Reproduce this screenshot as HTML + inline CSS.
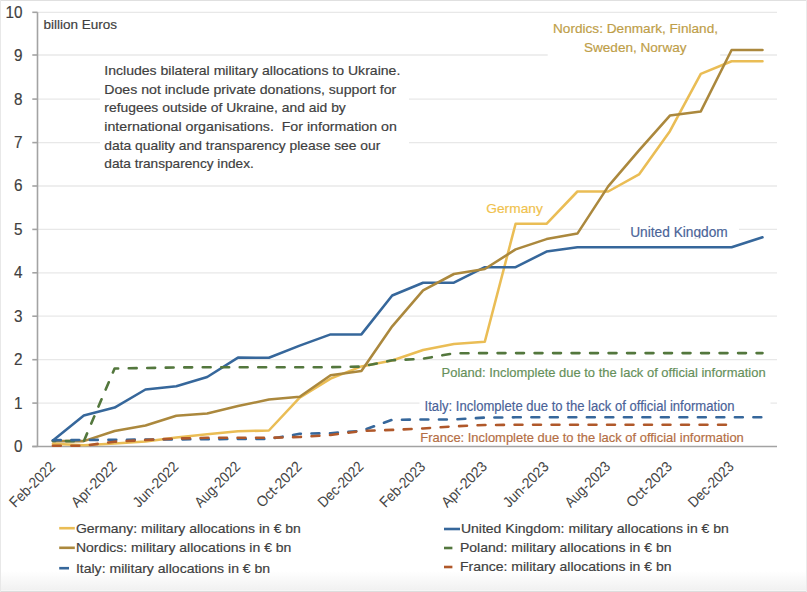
<!DOCTYPE html>
<html><head><meta charset="utf-8"><title>Military allocations to Ukraine</title>
<style>
html,body{margin:0;padding:0;background:#fff;}
body{width:807px;height:592px;overflow:hidden;}
svg{display:block;}
text{font-family:"Liberation Sans",sans-serif;stroke-width:0.18px;}
.xl text{stroke-width:0.04px;}
</style></head><body>
<svg width="807" height="592" viewBox="0 0 807 592">
<defs>
<linearGradient id="bg" x1="0" y1="0" x2="0" y2="1">
<stop offset="0" stop-color="#ffffff"/><stop offset="1" stop-color="#f1f1f1"/>
</linearGradient>
<clipPath id="ukclip"><rect x="600" y="210" width="150" height="28.3"/></clipPath>
</defs>
<rect x="0" y="0" width="807" height="592" fill="#fff"/>
<rect x="0" y="571" width="807" height="19" fill="url(#bg)"/>
<rect x="0" y="590" width="807" height="1" fill="#f6f6f6"/>
<rect x="0" y="591" width="807" height="1" fill="#dddddd"/>
<rect x="0" y="0" width="807" height="1" fill="#e0e0e0"/>
<rect x="0" y="0" width="1" height="592" fill="#e8e8e8"/>
<rect x="806" y="0" width="1" height="592" fill="#ebebeb"/>

<g stroke="#e8e8e8" stroke-width="1.3" fill="none">
<line x1="37.5" y1="403.1" x2="777" y2="403.1"/>
<line x1="37.5" y1="359.7" x2="777" y2="359.7"/>
<line x1="37.5" y1="316.2" x2="777" y2="316.2"/>
<line x1="37.5" y1="272.8" x2="777" y2="272.8"/>
<line x1="37.5" y1="229.4" x2="777" y2="229.4"/>
<line x1="37.5" y1="186.0" x2="777" y2="186.0"/>
<line x1="37.5" y1="142.6" x2="777" y2="142.6"/>
<line x1="37.5" y1="99.1" x2="777" y2="99.1"/>
<line x1="37.5" y1="55.0" x2="777" y2="55.0"/>
<line x1="37.5" y1="12.3" x2="777" y2="12.3"/>
</g>
<g stroke="#a3a3a3" stroke-width="1.6" fill="none">
<line x1="37.5" y1="12.3" x2="37.5" y2="446.5"/>
<line x1="32.3" y1="446.5" x2="37.5" y2="446.5"/>
<line x1="32.3" y1="403.1" x2="37.5" y2="403.1"/>
<line x1="32.3" y1="359.7" x2="37.5" y2="359.7"/>
<line x1="32.3" y1="316.2" x2="37.5" y2="316.2"/>
<line x1="32.3" y1="272.8" x2="37.5" y2="272.8"/>
<line x1="32.3" y1="229.4" x2="37.5" y2="229.4"/>
<line x1="32.3" y1="186.0" x2="37.5" y2="186.0"/>
<line x1="32.3" y1="142.6" x2="37.5" y2="142.6"/>
<line x1="32.3" y1="99.1" x2="37.5" y2="99.1"/>
<line x1="32.3" y1="55.0" x2="37.5" y2="55.0"/>
<line x1="32.3" y1="12.3" x2="37.5" y2="12.3"/>
<line x1="32.3" y1="446.5" x2="777" y2="446.5"/>
</g>
<g font-size="16.8" fill="#404040" stroke="#404040" text-anchor="end">
<text x="22.5" y="451.9" textLength="8.5" lengthAdjust="spacingAndGlyphs">0</text>
<text x="22.5" y="408.5" textLength="8.5" lengthAdjust="spacingAndGlyphs">1</text>
<text x="22.5" y="365.1" textLength="8.5" lengthAdjust="spacingAndGlyphs">2</text>
<text x="22.5" y="321.6" textLength="8.5" lengthAdjust="spacingAndGlyphs">3</text>
<text x="22.5" y="278.2" textLength="8.5" lengthAdjust="spacingAndGlyphs">4</text>
<text x="22.5" y="234.8" textLength="8.5" lengthAdjust="spacingAndGlyphs">5</text>
<text x="22.5" y="191.4" textLength="8.5" lengthAdjust="spacingAndGlyphs">6</text>
<text x="22.5" y="148.0" textLength="8.5" lengthAdjust="spacingAndGlyphs">7</text>
<text x="22.5" y="104.5" textLength="8.5" lengthAdjust="spacingAndGlyphs">8</text>
<text x="22.5" y="61.1" textLength="8.5" lengthAdjust="spacingAndGlyphs">9</text>
<text x="22.5" y="17.7" textLength="17.0" lengthAdjust="spacingAndGlyphs">10</text>
</g>
<g class="xl" font-size="14.8" fill="#454545" stroke="#454545" text-anchor="end">
<text transform="translate(56.0,467.6) rotate(-45)" x="0" y="0" textLength="57.5" lengthAdjust="spacingAndGlyphs">Feb-2022</text>
<text transform="translate(117.7,467.6) rotate(-45)" x="0" y="0" textLength="57.5" lengthAdjust="spacingAndGlyphs">Apr-2022</text>
<text transform="translate(179.4,467.6) rotate(-45)" x="0" y="0" textLength="57.5" lengthAdjust="spacingAndGlyphs">Jun-2022</text>
<text transform="translate(241.1,467.6) rotate(-45)" x="0" y="0" textLength="57.5" lengthAdjust="spacingAndGlyphs">Aug-2022</text>
<text transform="translate(302.8,467.6) rotate(-45)" x="0" y="0" textLength="57.5" lengthAdjust="spacingAndGlyphs">Oct-2022</text>
<text transform="translate(364.5,467.6) rotate(-45)" x="0" y="0" textLength="57.5" lengthAdjust="spacingAndGlyphs">Dec-2022</text>
<text transform="translate(426.2,467.6) rotate(-45)" x="0" y="0" textLength="57.5" lengthAdjust="spacingAndGlyphs">Feb-2023</text>
<text transform="translate(487.9,467.6) rotate(-45)" x="0" y="0" textLength="57.5" lengthAdjust="spacingAndGlyphs">Apr-2023</text>
<text transform="translate(549.6,467.6) rotate(-45)" x="0" y="0" textLength="57.5" lengthAdjust="spacingAndGlyphs">Jun-2023</text>
<text transform="translate(611.3,467.6) rotate(-45)" x="0" y="0" textLength="57.5" lengthAdjust="spacingAndGlyphs">Aug-2023</text>
<text transform="translate(673.0,467.6) rotate(-45)" x="0" y="0" textLength="57.5" lengthAdjust="spacingAndGlyphs">Oct-2023</text>
<text transform="translate(734.7,467.6) rotate(-45)" x="0" y="0" textLength="57.5" lengthAdjust="spacingAndGlyphs">Dec-2023</text>
</g>
<g fill="#fff">
<rect x="100" y="60" width="309" height="118"/>
<rect x="547.7" y="16" width="172.5" height="43"/>
<rect x="620" y="218" width="119" height="20"/>
<rect x="419.5" y="398" width="351" height="16"/>
</g>
<polyline points="52.9,443.8 83.8,445.3 114.6,443.5 145.5,441.5 176.3,437.5 207.2,434.3 238.0,431.3 268.9,430.5 299.7,397.6 330.6,378.6 361.4,366.4 392.2,360.5 423.1,350.0 453.9,344.0 484.8,341.8 515.6,223.8 546.5,223.8 577.4,191.5 608.2,191.5 639.0,174.4 669.9,131.2 700.8,73.9 731.6,61.2 762.5,61.2" fill="none" stroke="#EABD55" stroke-width="2.55" stroke-linejoin="round" stroke-linecap="round"/>
<polyline points="52.9,440.4 83.8,415.6 114.6,407.6 145.5,389.5 176.3,386.3 207.2,377.0 238.0,357.6 268.9,357.8 299.7,345.6 330.6,334.4 361.4,334.4 392.2,295.5 423.1,282.7 453.9,282.7 484.8,267.2 515.6,267.2 546.5,251.6 577.4,247.3 608.2,247.2 639.0,247.2 669.9,247.2 700.8,247.2 731.6,247.2 762.5,237.3" fill="none" stroke="#36679B" stroke-width="2.55" stroke-linejoin="round" stroke-linecap="round"/>
<polyline points="52.9,441.1 83.8,441.1 114.6,431.0 145.5,425.5 176.3,415.8 207.2,413.4 238.0,406.0 268.9,399.6 299.7,396.8 330.6,375.3 361.4,371.0 392.2,326.3 423.1,290.3 453.9,274.0 484.8,269.0 515.6,249.4 546.5,239.1 577.4,233.6 608.2,186.4 639.0,150.3 669.9,115.6 700.8,111.4 731.6,50.0 762.5,50.0" fill="none" stroke="#AB883D" stroke-width="2.55" stroke-linejoin="round" stroke-linecap="round"/>
<polyline points="52.9,441.0 83.8,441.2 114.6,368.5 145.5,368.0 176.3,367.5 207.2,367.2 238.0,367.2 268.9,367.2 299.7,367.2 330.6,367.2 361.4,366.6 392.2,360.3 423.1,358.7 453.9,353.3 484.8,353.1 515.6,353.1 546.5,353.1 577.4,353.1 608.2,353.1 639.0,353.1 669.9,353.1 700.8,353.1 731.6,353.1 762.5,353.1" fill="none" stroke="#53773D" stroke-width="2.6" stroke-linejoin="round" stroke-linecap="round" stroke-dasharray="7.9 10.6" stroke-dashoffset="5.5"/>
<polyline points="52.9,440.2 83.8,440.0 114.6,439.8 145.5,439.6 176.3,439.4 207.2,439.2 238.0,439.0 268.9,439.0 299.7,433.8 330.6,433.2 361.4,430.8 392.2,419.8 423.1,419.5 453.9,419.5 484.8,417.6 515.6,417.3 546.5,417.2 577.4,417.2 608.2,417.2 639.0,417.2 669.9,417.2 700.8,417.2 731.6,417.2 762.5,417.2" fill="none" stroke="#36679B" stroke-width="2.6" stroke-linejoin="round" stroke-linecap="round" stroke-dasharray="7.9 10.6" stroke-dashoffset="0"/>
<polyline points="52.9,445.7 83.8,445.7 114.6,441.7 145.5,440.0 176.3,438.5 207.2,437.8 238.0,437.8 268.9,437.8 299.7,437.0 330.6,435.0 361.4,431.0 392.2,429.9 423.1,428.5 453.9,426.3 484.8,425.0 515.6,424.8 546.5,424.8 577.4,424.8 608.2,424.8 639.0,424.8 669.9,424.8 700.8,424.8 731.6,424.8" fill="none" stroke="#B0582A" stroke-width="2.6" stroke-linejoin="round" stroke-linecap="round" stroke-dasharray="7.9 10.6" stroke-dashoffset="0"/>
<g font-size="13.4" fill="#404040" stroke="#404040">
<text x="104.3" y="74.8" textLength="296" lengthAdjust="spacingAndGlyphs" xml:space="preserve">Includes bilateral military allocations to Ukraine.</text>
<text x="104.3" y="93.5" textLength="292" lengthAdjust="spacingAndGlyphs" xml:space="preserve">Does not include private donations, support for</text>
<text x="104.3" y="112.2" textLength="241.5" lengthAdjust="spacingAndGlyphs" xml:space="preserve">refugees outside of Ukraine, and aid by</text>
<text x="104.3" y="130.8" textLength="292.5" lengthAdjust="spacingAndGlyphs" xml:space="preserve">international organisations.  For information on</text>
<text x="104.3" y="149.5" textLength="276" lengthAdjust="spacingAndGlyphs" xml:space="preserve">data quality and transparency please see our</text>
<text x="104.3" y="168.2" textLength="149.5" lengthAdjust="spacingAndGlyphs" xml:space="preserve">data transparency index.</text>
</g>
<text x="43.5" y="29.4" font-size="13.6" fill="#404040" stroke="#404040" textLength="73.6" lengthAdjust="spacingAndGlyphs">billion Euros</text>
<g font-size="13.4">
<text x="553" y="33.3" fill="#BE9E48" stroke="#BE9E48" textLength="165" lengthAdjust="spacingAndGlyphs">Nordics: Denmark, Finland,</text>
<text x="584" y="51.5" fill="#BE9E48" stroke="#BE9E48" textLength="102.5" lengthAdjust="spacingAndGlyphs">Sweden, Norway</text>
<text x="486.3" y="213.2" fill="#F0C24E" stroke="#F0C24E" textLength="56.5" lengthAdjust="spacingAndGlyphs">Germany</text>
<text x="630.2" y="237.1" font-size="14.3" fill="#4A6498" stroke="#4A6498" clip-path="url(#ukclip)" textLength="97.6" lengthAdjust="spacingAndGlyphs">United Kingdom</text>
<text x="441.6" y="376.7" fill="#66905A" stroke="#66905A" textLength="324" lengthAdjust="spacingAndGlyphs">Poland: Inclomplete due to the lack of official information</text>
<text x="424.6" y="410.8" font-size="14" fill="#4A6298" stroke="#4A6298" textLength="310" lengthAdjust="spacingAndGlyphs">Italy: Inclomplete due to the lack of official information</text>
<text x="420.3" y="441.5" fill="#B46E44" stroke="#B46E44" textLength="323.5" lengthAdjust="spacingAndGlyphs">France: Inclomplete due to the lack of official information</text>
</g>
<g stroke-width="2.6" stroke-linecap="butt">
<line x1="59.2" y1="528.2" x2="74.8" y2="528.2" stroke="#EABD55"/>
<line x1="59.2" y1="547.8" x2="74.8" y2="547.8" stroke="#AB883D"/>
<line x1="59.2" y1="568.2" x2="69" y2="568.2" stroke="#36679B"/>
<line x1="444" y1="529" x2="460" y2="529" stroke="#36679B"/>
<line x1="444" y1="548" x2="452.4" y2="548" stroke="#53773D"/>
<line x1="444" y1="567" x2="452.4" y2="567" stroke="#B0582A"/>
</g>
<g font-size="13.6" fill="#404040" stroke="#404040">
<text x="75.9" y="532.6" textLength="225" lengthAdjust="spacingAndGlyphs">Germany: military allocations in € bn</text>
<text x="75.9" y="552.3" textLength="215.5" lengthAdjust="spacingAndGlyphs">Nordics: military allocations in € bn</text>
<text x="75.9" y="572.6" textLength="194.3" lengthAdjust="spacingAndGlyphs">Italy: military allocations in € bn</text>
<text x="460.9" y="533.3" textLength="268" lengthAdjust="spacingAndGlyphs">United Kingdom: military allocations in € bn</text>
<text x="460" y="552.3" textLength="211.5" lengthAdjust="spacingAndGlyphs">Poland: military allocations in € bn</text>
<text x="460" y="571.3" textLength="211.5" lengthAdjust="spacingAndGlyphs">France: military allocations in € bn</text>
</g>
</svg>
</body></html>
